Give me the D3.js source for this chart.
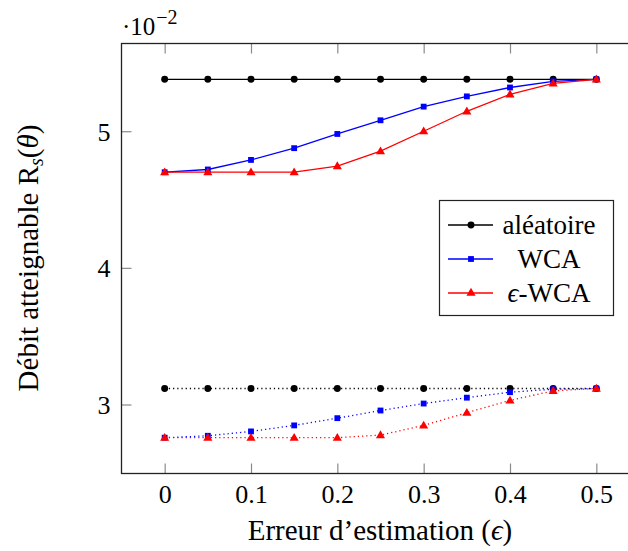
<!DOCTYPE html>
<html><head><meta charset="utf-8">
<script src="https://cdn.jsdelivr.net/npm/d3@7"></script>
<style>
html,body{margin:0;padding:0;background:#fff;}
svg{display:block;}
text{font-family:"Liberation Serif","Times New Roman",serif;fill:#000;}
</style></head>
<body>
<svg id="chart" width="628" height="551"></svg>
<script>
// Data (values in absolute units; axis shows ·10^-2)
const eps = [0, 0.05, 0.1, 0.15, 0.2, 0.25, 0.3, 0.35, 0.4, 0.45, 0.5];
const aleatoireHigh = [0.0538,0.0538,0.0538,0.0538,0.0538,0.0538,0.0538,0.0538,0.0538,0.0538,0.0538];
const wcaHigh       = [0.0470,0.0472,0.0479,0.04876,0.0498,0.0508,0.0518,0.05255,0.0532,0.05365,0.0538];
const epsWcaHigh    = [0.0470,0.0470,0.0470,0.0470,0.04745,0.04854,0.0500,0.05146,0.0527,0.0535,0.0538];
const aleatoireLow  = [0.03117,0.03117,0.03117,0.03117,0.03117,0.03117,0.03117,0.03117,0.03117,0.03117,0.03117];
const wcaLow        = [0.02757,0.02771,0.02803,0.02847,0.0290,0.02956,0.03007,0.0305,0.0309,0.03112,0.03117];
const epsWcaLow     = [0.02757,0.02757,0.02757,0.02757,0.02757,0.02776,0.02847,0.0294,0.0303,0.0310,0.03117];
const xTicks = [0, 0.1, 0.2, 0.3, 0.4, 0.5];
const yTicks = [0.03, 0.04, 0.05];
const legendLabels = ["aléatoire", "WCA", "ϵ-WCA"];

const svg = d3.select("#chart");
const L = 121.5, R = 639.5, T = 43.5, B = 473.5;
const x = d3.scaleLinear().domain([-0.05, 0.55]).range([L, R]);
const y = d3.scaleLinear().domain([0.02495, 0.05642]).range([B, T]);

const tickLen = 10, tickColor = "#8a8a8a";
// bottom axis ticks (inward) + labels
const xb = svg.append("g").attr("transform", `translate(0,${B})`)
  .call(d3.axisBottom(x).tickValues(xTicks).tickSizeInner(-tickLen).tickSizeOuter(0)
        .tickFormat(d => d === 0 ? "0" : d3.format(".1f")(d)));
xb.select(".domain").remove();
xb.selectAll(".tick line").attr("stroke", tickColor).attr("stroke-width", 1.2);
xb.selectAll(".tick text").attr("font-size", 26).attr("y", 29.5).attr("dy", 0);
// top axis ticks
const xt = svg.append("g").attr("transform", `translate(0,${T})`)
  .call(d3.axisTop(x).tickValues(xTicks).tickSizeInner(-tickLen).tickSizeOuter(0).tickFormat(""));
xt.select(".domain").remove();
xt.selectAll(".tick line").attr("stroke", tickColor).attr("stroke-width", 1.2);
// left axis
const yl = svg.append("g").attr("transform", `translate(${L},0)`)
  .call(d3.axisLeft(y).tickValues(yTicks).tickSizeInner(-tickLen).tickSizeOuter(0)
        .tickFormat(d => String(Math.round(d * 100))));
yl.select(".domain").remove();
yl.selectAll(".tick line").attr("stroke", tickColor).attr("stroke-width", 1.2);
yl.selectAll(".tick text").attr("font-size", 26).attr("x", -11).attr("dy", "0.34em");

// frame
svg.append("rect").attr("x", L).attr("y", T).attr("width", R - L).attr("height", B - T)
  .attr("fill", "none").attr("stroke", "#222").attr("stroke-width", 1.3);

// scale label
const sc = svg.append("text").attr("x", 122).attr("y", 35).attr("font-size", 25);
sc.append("tspan").text("·10");
sc.append("tspan").attr("font-size", 20).attr("dy", -11).attr("dx", 1).text("−2");

// series
const series = [
  {vals: aleatoireHigh, color: "#000", marker: "circle", dash: null},
  {vals: wcaHigh, color: "#0000ff", marker: "square", dash: null},
  {vals: epsWcaHigh, color: "#ff0000", marker: "triangle", dash: null},
  {vals: aleatoireLow, color: "#000", marker: "circle", dash: "1.2,3"},
  {vals: wcaLow, color: "#0000ff", marker: "square", dash: "1.2,3"},
  {vals: epsWcaLow, color: "#ff0000", marker: "triangle", dash: "1.2,3"}
];
const line = d3.line().x(d => x(d[0])).y(d => y(d[1]));
const sym = {
  circle: d3.symbol(d3.symbolCircle, 38),
  square: d3.symbol(d3.symbolSquare, 34),
  triangle: d3.symbol(d3.symbolTriangle, 36)
};
const plot = svg.append("g");
series.forEach(s => {
  const pts = eps.map((e, i) => [e, s.vals[i]]);
  plot.append("path").attr("d", line(pts)).attr("fill", "none")
    .attr("stroke", s.color).attr("stroke-width", 1.3)
    .attr("stroke-dasharray", s.dash);
});
series.forEach(s => {
  const pts = eps.map((e, i) => [e, s.vals[i]]);
  plot.selectAll(null).data(pts).enter().append("path")
    .attr("d", sym[s.marker]())
    .attr("transform", d => `translate(${x(d[0])},${y(d[1]) + (s.marker === "triangle" ? 0.5 : 0)})`)
    .attr("fill", s.color);
});

// legend
const lg = svg.append("g");
lg.append("rect").attr("x", 439.5).attr("y", 200.5).attr("width", 174).attr("height", 115)
  .attr("fill", "#fff").attr("stroke", "#222").attr("stroke-width", 1.2);
const lgColors = ["#000", "#0000ff", "#ff0000"], lgMarkers = ["circle", "square", "triangle"];
legendLabels.forEach((lab, i) => {
  const cy = 225 + i * 34;
  lg.append("line").attr("x1", 448).attr("x2", 493).attr("y1", cy).attr("y2", cy)
    .attr("stroke", lgColors[i]).attr("stroke-width", 1.3);
  lg.append("path").attr("d", sym[lgMarkers[i]]()).attr("transform", `translate(471,${cy})`).attr("fill", lgColors[i]);
  const t = lg.append("text").attr("x", 549).attr("y", cy + 9).attr("text-anchor", "middle").attr("font-size", 27);
  if (lab.startsWith("ϵ")) {
    t.append("tspan").attr("font-style", "italic").text("ϵ");
    t.append("tspan").text(lab.slice(1));
  } else t.text(lab);
});

// axis labels
const xl = svg.append("text").attr("x", 380).attr("y", 540).attr("text-anchor", "middle").attr("font-size", 29);
xl.append("tspan").text("Erreur d’estimation (");
xl.append("tspan").attr("font-style", "italic").text("ϵ");
xl.append("tspan").text(")");

const ylab = svg.append("text").attr("transform", "translate(38,258) rotate(-90)")
  .attr("text-anchor", "middle").attr("font-size", 29);
ylab.append("tspan").text("Débit atteignable R");
ylab.append("tspan").attr("font-style", "italic").attr("font-size", 20).attr("dy", 5).text("s");
ylab.append("tspan").attr("dy", -5).text("(");
ylab.append("tspan").attr("font-style", "italic").text("θ");
ylab.append("tspan").text(")");
</script>
</body></html>
